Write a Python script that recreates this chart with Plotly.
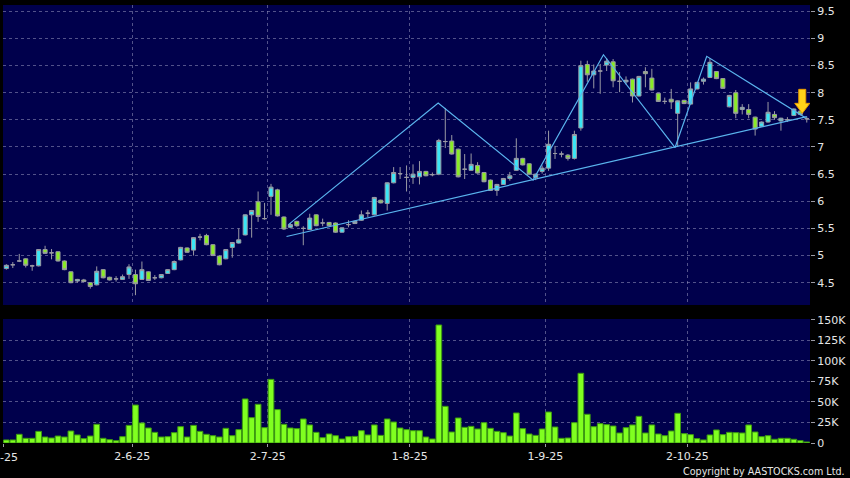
import plotly.graph_objects as go

# ---------------- data ----------------
opens = [4.76, 4.83, 4.90, 4.94, 4.81, 4.81, 5.11, 5.05, 5.07, 4.90,
         4.70, 4.53, 4.55, 4.50, 4.46, 4.74, 4.60, 4.57, 4.56, 4.65,
         4.65, 4.56, 4.70, 4.59, 4.59, 4.67, 4.74, 4.92, 5.14, 5.10,
         5.34, 5.37, 5.20, 4.99, 4.94, 5.15, 5.23, 5.38, 5.75, 5.99,
         5.68, 6.09, 6.21, 5.71, 5.52, 5.63, 5.50, 5.48, 5.75, 5.60,
         5.61, 5.60, 5.43, 5.57, 5.59, 5.65, 5.78, 5.75, 6.02, 5.96,
         6.34, 6.51, 6.44, 6.44, 6.45, 6.55, 6.49, 6.50, 7.10, 7.11,
         6.96, 6.59, 6.57, 6.66, 6.53, 6.39, 6.20, 6.31, 6.42, 6.57,
         6.79, 6.69, 6.44, 6.55, 6.61, 6.88, 6.87, 6.85, 6.79, 7.35,
         8.52, 8.33, 8.40, 8.51, 8.57, 8.21, 8.20, 8.25, 7.94, 8.39,
         8.27, 7.99, 7.84, 7.88, 7.62, 7.86, 7.79, 8.07, 8.21, 8.28,
         8.39, 8.26, 7.74, 8.00, 7.69, 7.69, 7.55, 7.38, 7.46, 7.60,
         7.48, 7.50, 7.58, 7.66, 7.52]
highs = [4.84, 4.88, 5.03, 4.95, 4.83, 5.12, 5.18, 5.12, 5.08, 4.91,
         4.71, 4.57, 4.57, 4.51, 4.80, 4.75, 4.61, 4.62, 4.65, 4.84,
         4.74, 4.89, 4.71, 4.64, 4.66, 4.75, 4.91, 5.16, 5.15, 5.34,
         5.40, 5.40, 5.21, 5.00, 5.12, 5.25, 5.50, 5.76, 5.84, 6.18,
         5.97, 6.32, 6.23, 5.72, 5.60, 5.64, 5.54, 5.77, 5.76, 5.68,
         5.62, 5.61, 5.52, 5.65, 5.64, 5.83, 5.84, 6.08, 6.03, 6.35,
         6.63, 6.63, 6.66, 6.68, 6.74, 6.56, 6.53, 7.15, 7.72, 7.22,
         6.97, 6.87, 6.88, 6.72, 6.54, 6.40, 6.32, 6.43, 6.54, 7.16,
         6.80, 6.70, 6.51, 6.66, 7.30, 7.02, 6.92, 6.87, 7.30, 8.59,
         8.59, 8.52, 8.53, 8.64, 8.62, 8.38, 8.30, 8.26, 8.31, 8.47,
         8.44, 8.00, 7.91, 8.07, 7.86, 7.87, 8.19, 8.20, 8.28, 8.64,
         8.40, 8.27, 7.96, 8.05, 7.79, 7.79, 7.56, 7.47, 7.83, 7.66,
         7.54, 7.55, 7.71, 7.67, 7.56]
lows = [4.74, 4.77, 4.88, 4.78, 4.72, 4.80, 5.03, 4.93, 4.89, 4.73,
        4.49, 4.50, 4.51, 4.39, 4.45, 4.58, 4.54, 4.52, 4.55, 4.57,
        4.27, 4.55, 4.53, 4.55, 4.58, 4.66, 4.73, 4.91, 5.05, 5.00,
        5.28, 5.19, 4.99, 4.82, 4.93, 4.96, 5.22, 5.37, 5.33, 5.62,
        5.66, 5.75, 5.72, 5.47, 5.50, 5.53, 5.19, 5.47, 5.54, 5.54,
        5.54, 5.42, 5.42, 5.52, 5.58, 5.64, 5.71, 5.74, 5.96, 5.83,
        6.33, 6.41, 6.18, 6.32, 6.31, 6.46, 6.46, 6.48, 6.98, 6.86,
        6.44, 6.41, 6.56, 6.51, 6.35, 6.19, 6.10, 6.30, 6.38, 6.56,
        6.66, 6.49, 6.39, 6.51, 6.56, 6.78, 6.81, 6.75, 6.77, 7.30,
        8.20, 8.08, 7.98, 8.40, 8.10, 8.01, 8.15, 7.82, 7.93, 8.10,
        8.04, 7.83, 7.79, 7.70, 7.00, 7.79, 7.78, 8.06, 8.15, 8.27,
        8.25, 8.07, 7.73, 7.53, 7.60, 7.53, 7.21, 7.37, 7.45, 7.50,
        7.30, 7.46, 7.57, 7.58, 7.45]
closes = [4.82, 4.83, 4.90, 4.82, 4.81, 5.11, 5.04, 5.05, 4.90, 4.74,
          4.50, 4.56, 4.52, 4.43, 4.71, 4.59, 4.55, 4.57, 4.61, 4.79,
          4.48, 4.74, 4.54, 4.59, 4.65, 4.74, 4.89, 5.15, 5.06, 5.33,
          5.34, 5.20, 5.00, 4.83, 5.11, 5.24, 5.29, 5.75, 5.83, 5.72,
          5.68, 6.26, 5.73, 5.49, 5.57, 5.55, 5.50, 5.69, 5.55, 5.60,
          5.55, 5.43, 5.51, 5.57, 5.63, 5.75, 5.78, 6.07, 5.97, 6.34,
          6.53, 6.51, 6.44, 6.50, 6.55, 6.47, 6.49, 7.12, 7.10, 6.87,
          6.45, 6.59, 6.68, 6.52, 6.36, 6.20, 6.31, 6.42, 6.47, 6.79,
          6.67, 6.50, 6.50, 6.61, 7.05, 6.88, 6.87, 6.79, 7.23, 8.50,
          8.33, 8.40, 8.40, 8.58, 8.22, 8.21, 8.23, 7.94, 8.30, 8.35,
          8.05, 7.84, 7.84, 7.83, 7.85, 7.80, 8.07, 8.19, 8.25, 8.56,
          8.26, 8.08, 7.95, 7.62, 7.73, 7.60, 7.33, 7.46, 7.64, 7.54,
          7.53, 7.50, 7.70, 7.60, 7.52]
volumes_k = [3.7, 3.7, 10.6, 5.7, 5.7, 14.2, 7.3, 6.1, 8.5, 7.3,
             14.6, 9.8, 5.3, 8.5, 22.8, 5.7, 4.1, 2.8, 7.7, 21.5,
             46.3, 24.4, 18.3, 13.0, 7.3, 7.7, 12.6, 19.9, 7.3, 21.5,
             14.2, 10.6, 8.9, 7.3, 17.9, 8.9, 16.3, 53.7, 30.9, 47.2,
             18.7, 77.6, 40.7, 22.8, 18.3, 17.5, 29.3, 22.0, 13.0, 6.5,
             11.0, 8.9, 4.9, 7.7, 8.1, 15.0, 9.8, 22.0, 9.3, 29.3,
             25.6, 18.3, 16.3, 15.0, 15.0, 7.3, 4.9, 143.9, 44.7, 13.4,
             30.5, 19.1, 20.3, 17.1, 24.8, 17.9, 14.2, 12.6, 8.5, 36.6,
             17.5, 11.0, 9.3, 17.1, 37.8, 19.5, 5.7, 6.1, 24.8, 85.0,
             35.0, 19.9, 23.6, 22.4, 20.7, 12.2, 18.7, 22.0, 32.5, 12.2,
             22.0, 11.0, 8.9, 14.6, 36.2, 11.4, 10.2, 5.3, 3.7, 9.8,
             15.9, 10.2, 13.0, 12.6, 12.2, 22.0, 13.4, 7.7, 8.9, 4.5,
             5.7, 5.7, 4.5, 2.8, 1.2]
volumes = [v * 1000 for v in volumes_k]
days = list(range(len(closes)))

# date labels (placed at the start of the labelled trading day)
tick_pos = [-0.5, 19.5, 40.5, 62.5, 83.5, 105.5]
tick_text = ["2-5-25", "2-6-25", "2-7-25", "1-8-25", "1-9-25", "2-10-25"]

price_ticks = [4.5, 5, 5.5, 6, 6.5, 7, 7.5, 8, 8.5, 9, 9.5]
vol_ticks = [0, 25000, 50000, 75000, 100000, 125000, 150000]
vol_tick_text = ["0", "25K", "50K", "75K", "100K", "125K", "150K"]

# drawn trendlines (index, price)
support_x = [43.4, 124.0]
support_y = [5.35, 7.56]
zigzag_x = [43.7, 66.9, 81.6, 92.5, 103.6, 108.5, 123.8]
zigzag_y = [5.57, 7.81, 6.39, 8.70, 6.99, 8.67, 7.54]
arrow_at = (123.3, 7.62)

# ---------------- styles ----------------
NAVY = "#00004c"
UP = "#3ae6f6"
DOWN = "#8aec26"
WICK = "#9a9aa4"
GRID = "rgba(150,150,190,0.55)"
TXT = "#e6e6e6"
LINE = "#5ab4ee"
FONT = "DejaVu Sans"

fig = go.Figure()

fig.add_trace(go.Candlestick(
    x=days, open=opens, high=highs, low=lows, close=closes,
    increasing=dict(line=dict(color=WICK, width=1), fillcolor=UP),
    decreasing=dict(line=dict(color=WICK, width=1), fillcolor=DOWN),
    whiskerwidth=0, xaxis="x", yaxis="y", showlegend=False,
))

fig.add_trace(go.Scatter(x=support_x, y=support_y, mode="lines",
                         line=dict(color=LINE, width=1.2),
                         xaxis="x", yaxis="y", showlegend=False))
fig.add_trace(go.Scatter(x=zigzag_x, y=zigzag_y, mode="lines",
                         line=dict(color=LINE, width=1.2),
                         xaxis="x", yaxis="y", showlegend=False))

fig.add_trace(go.Bar(x=days, y=volumes, marker=dict(color="#80ff20",
                     line=dict(color="#3c9a10", width=1)),
                     xaxis="x2", yaxis="y2", showlegend=False))

xr = [-0.52, 124.5]
axis_common = dict(showgrid=True, gridcolor=GRID, griddash="3px,3px", gridwidth=1,
                   zeroline=False, showline=False, automargin=False,
                   tickfont=dict(family=FONT, size=11, color=TXT))

fig.update_layout(
    template="none",
    width=850, height=478,
    margin=dict(l=3, r=40, t=5, b=35),
    paper_bgcolor="#000000",
    plot_bgcolor=NAVY,
    boxgap=0.1,
    bargap=0.12,
    xaxis=dict(domain=[0, 1], anchor="y", range=xr, tickvals=tick_pos, ticktext=tick_text,
               showticklabels=False, ticks="", rangeslider=dict(visible=False),
               matches="x2", **axis_common),
    yaxis=dict(domain=[0.3151, 1], anchor="x", side="right", range=[4.089, 9.616],
               tickvals=price_ticks, ticks="outside", ticklen=4, tickcolor=WICK,
               **axis_common),
    xaxis2=dict(domain=[0, 1], anchor="y2", range=xr, tickvals=tick_pos, ticktext=tick_text,
                ticks="outside", ticklen=3, tickcolor=WICK, **axis_common),
    yaxis2=dict(domain=[0, 0.2831], anchor="x2", side="right", range=[0, 151200],
                tickvals=vol_ticks, ticktext=vol_tick_text, ticks="outside", ticklen=4,
                tickcolor=WICK, **axis_common),
    shapes=[dict(type="path", xref="x", yref="y", xsizemode="pixel", ysizemode="pixel",
                 xanchor=arrow_at[0], yanchor=arrow_at[1],
                 path="M 0,0 L -7.5,10 L -3.5,10 L -3.5,24 L 3.5,24 L 3.5,10 L 7.5,10 Z",
                 fillcolor="#ffd21a", line=dict(color="#e89a00", width=1))],
    annotations=[
        dict(text="Copyright by AASTOCKS.com Ltd.", xref="paper", yref="paper",
             x=1, xshift=37, xanchor="right", y=-0.064, yanchor="middle",
             showarrow=False, font=dict(family=FONT, size=9.6, color=TXT)),
        # first date label sits on the left edge and is clipped by the page, as in the source
        dict(text=tick_text[0], xref="x2", yref="paper", x=tick_pos[0], y=0,
             yshift=-14, xshift=-3, xanchor="center", yanchor="middle", showarrow=False,
             font=dict(family=FONT, size=11, color=TXT)),
    ],
    hovermode=False,
)

fig.write_html("out.html", config={"displayModeBar": False},
               post_script="document.body.style.margin='0px';document.body.style.background='#000';")
